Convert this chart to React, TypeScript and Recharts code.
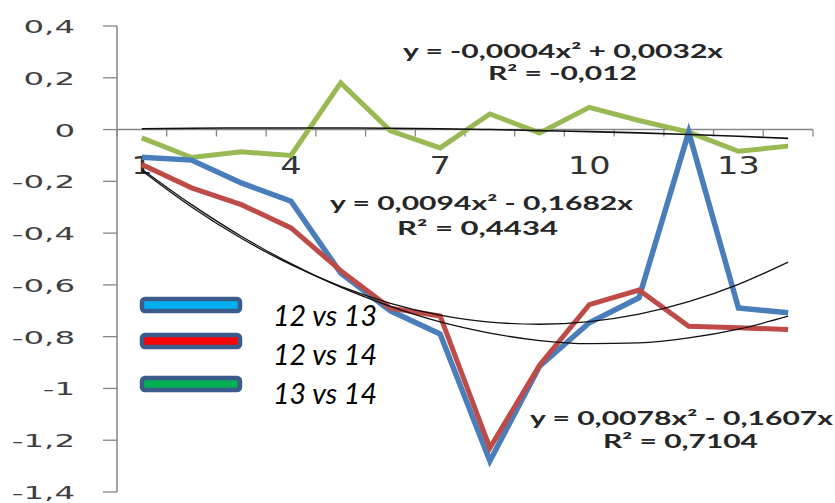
import React from "react";
import { LineChart, Line, XAxis, YAxis, ReferenceLine } from "recharts";

const xValues = [1, 2, 3, 4, 5, 6, 7, 8, 9, 10, 11, 12, 13, 14];
const xLabels = [1, 4, 7, 10, 13];
const yTicks = [0.4, 0.2, 0, -0.2, -0.4, -0.6, -0.8, -1, -1.2, -1.4];

const vs1213 = [-0.107, -0.118, -0.206, -0.277, -0.554, -0.7, -0.79, -1.28, -0.914, -0.746, -0.65, -0.01, -0.689, -0.708];
const vs1214 = [-0.135, -0.225, -0.29, -0.38, -0.545, -0.69, -0.72, -1.23, -0.91, -0.676, -0.62, -0.76, -0.766, -0.772];
const vs1314 = [-0.032, -0.108, -0.086, -0.1, 0.18, -0.005, -0.071, 0.06, -0.013, 0.086, 0.035, -0.01, -0.084, -0.064];

// trendlines as drawn (poly, order 2)
const trend1213 = [-0.153, -0.29, -0.412, -0.518, -0.609, -0.683, -0.743, -0.786, -0.815, -0.827, -0.824, -0.805, -0.771, -0.721];
const trend1214 = [-0.159, -0.299, -0.42, -0.522, -0.606, -0.671, -0.717, -0.744, -0.752, -0.742, -0.713, -0.665, -0.598, -0.512];
const trend1314 = [0.003, 0.005, 0.006, 0.006, 0.006, 0.005, 0.003, 0, -0.004, -0.008, -0.013, -0.019, -0.026, -0.034];

const legendNames = ["12 vs 13", "12 vs 14", "13 vs 14"];
const legendFills = ["#00b0f0", "#ff0000", "#00b050"];

const data = xValues.map((x, i) => ({
  x,
  a: vs1213[i],
  b: vs1214[i],
  c: vs1314[i],
  ta: trend1213[i],
  tb: trend1214[i],
  tc: trend1314[i],
}));

const BLUE = "#4a7ebb";
const RED = "#be4b48";
const GREEN = "#98b954";
const AXIS = "#868686";

function fmt(v: number) {
  return String(Number(v.toFixed(1))).replace(".", ",");
}

function YTick({ x, y, payload }: any) {
  return (
    <text
      transform={`translate(${x},${y + 7}) scale(1.8,1)`}
      textAnchor="end"
      fontFamily="DejaVu Sans"
      fontSize={18}
      fill="#404040"
    >
      {fmt(payload.value)}
    </text>
  );
}

// horizontal axis crossing at y = 0
function ZeroAxis(props: any) {
  const { x1, x2, y1 } = props;
  if (x1 == null) return <g />;
  const n = xValues.length;
  const step = (x2 - x1) / n;
  return (
    <g>
      <line x1={x1} x2={x2} y1={y1} y2={y1} stroke={AXIS} strokeWidth={1.5} />
      {Array.from({ length: n + 1 }, (_, i) => (
        <line key={i} x1={x1 + i * step} x2={x1 + i * step} y1={y1} y2={y1 + 7} stroke={AXIS} strokeWidth={1.3} />
      ))}
      {xLabels.map((v) => (
        <text
          key={v}
          transform={`translate(${x1 + (v - 0.5) * step},${y1 + 44}) scale(1.4,1)`}
          textAnchor="middle"
          fontFamily="DejaVu Sans"
          fontSize={24}
          fill="#333"
        >
          {v}
        </text>
      ))}
    </g>
  );
}

const eqStyle = { fontFamily: "Lato", fontWeight: 700, fontSize: 19, fill: "#262626" } as const;

export default function App() {
  return (
    <div style={{ position: "absolute", left: 0, top: 0, width: 835, height: 503, background: "#fff" }}>
      <LineChart width={835} height={503} data={data} margin={{ top: 26, right: 22, bottom: 11, left: 0 }}>
        <XAxis dataKey="x" type="number" domain={[0.5, 14.5]} hide />
        <YAxis
          type="number"
          domain={[-1.4, 0.4]}
          ticks={yTicks}
          width={117}
          tickSize={14}
          tickMargin={28}
          tick={<YTick />}
          axisLine={{ stroke: AXIS, strokeWidth: 1.5 }}
          tickLine={{ stroke: AXIS, strokeWidth: 1.3 }}
          interval={0}
        />
        <ReferenceLine y={0} shape={(p: any) => <ZeroAxis {...p} />} />
        <Line dataKey="c" stroke={GREEN} strokeWidth={5} dot={false} isAnimationActive={false} />
        <Line dataKey="a" stroke={BLUE} strokeWidth={5.5} dot={false} isAnimationActive={false} />
        <Line dataKey="b" stroke={RED} strokeWidth={5} dot={false} isAnimationActive={false} />
        <Line dataKey="ta" type="monotone" stroke="#111" strokeWidth={1.3} dot={false} isAnimationActive={false} />
        <Line dataKey="tb" type="monotone" stroke="#111" strokeWidth={1.3} dot={false} isAnimationActive={false} />
        <Line dataKey="tc" type="monotone" stroke="#111" strokeWidth={1.6} dot={false} isAnimationActive={false} />
      </LineChart>
      <svg width={835} height={503} style={{ position: "absolute", left: 0, top: 0, pointerEvents: "none" }}>
        <text x={403} y={58} textLength={320} lengthAdjust="spacingAndGlyphs" style={eqStyle}>y = -0,0004x² + 0,0032x</text>
        <text x={488} y={80} textLength={149} lengthAdjust="spacingAndGlyphs" style={eqStyle}>R² = -0,012</text>
        <text x={330} y={210} textLength={303} lengthAdjust="spacingAndGlyphs" style={eqStyle}>y = 0,0094x² - 0,1682x</text>
        <text x={397} y={235} textLength={161} lengthAdjust="spacingAndGlyphs" style={eqStyle}>R² = 0,4434</text>
        <text x={530} y={425} textLength={303} lengthAdjust="spacingAndGlyphs" style={eqStyle}>y = 0,0078x² - 0,1607x</text>
        <text x={603} y={448} textLength={155} lengthAdjust="spacingAndGlyphs" style={eqStyle}>R² = 0,7104</text>
        {legendNames.map((name, i) => {
          const top = [299, 335, 378][i];
          const base = [326, 365, 404][i];
          return (
            <g key={name}>
              <rect x={142} y={top} width={98} height={12} rx={3} fill={legendFills[i]} stroke="#3b5b8a" strokeWidth={4.5} />
              <text
                x={273}
                y={base}
                textLength={104}
                lengthAdjust="spacingAndGlyphs"
                fontFamily="Lato"
                fontStyle="italic"
                fontSize={29}
                fill="#000"
              >
                {name}
              </text>
            </g>
          );
        })}
      </svg>
    </div>
  );
}
